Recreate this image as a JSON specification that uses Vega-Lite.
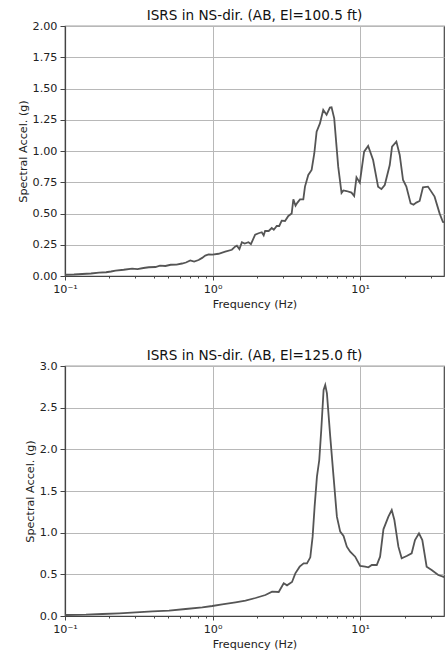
{
  "$schema": "https://vega.github.io/schema/vega-lite/v6.json",
  "padding": {"left": 16, "top": 8, "right": 0, "bottom": 0},
  "spacing": 38,
  "datasets": {
    "top": [
      {"f": 0.1, "a": 0.01}, {"f": 0.115, "a": 0.012}, {"f": 0.131, "a": 0.016}, {"f": 0.15, "a": 0.02}, {"f": 0.17, "a": 0.027}, {"f": 0.19, "a": 0.03}, {"f": 0.205, "a": 0.036}, {"f": 0.22, "a": 0.043},
      {"f": 0.25, "a": 0.05}, {"f": 0.285, "a": 0.059}, {"f": 0.31, "a": 0.055}, {"f": 0.34, "a": 0.064}, {"f": 0.37, "a": 0.07}, {"f": 0.41, "a": 0.072}, {"f": 0.44, "a": 0.083}, {"f": 0.479, "a": 0.08}, {"f": 0.52, "a": 0.09}, {"f": 0.57, "a": 0.091}, {"f": 0.621, "a": 0.1},
      {"f": 0.66, "a": 0.108}, {"f": 0.706, "a": 0.125}, {"f": 0.75, "a": 0.115}, {"f": 0.804, "a": 0.128}, {"f": 0.85, "a": 0.145}, {"f": 0.892, "a": 0.163}, {"f": 0.94, "a": 0.172}, {"f": 1.0, "a": 0.171},
      {"f": 1.098, "a": 0.178}, {"f": 1.218, "a": 0.195}, {"f": 1.351, "a": 0.21}, {"f": 1.42, "a": 0.235}, {"f": 1.46, "a": 0.242},
      {"f": 1.52, "a": 0.215}, {"f": 1.58, "a": 0.27}, {"f": 1.65, "a": 0.26}, {"f": 1.751, "a": 0.27}, {"f": 1.82, "a": 0.255}, {"f": 1.943, "a": 0.33},
      {"f": 2.05, "a": 0.342}, {"f": 2.154, "a": 0.35}, {"f": 2.22, "a": 0.325}, {"f": 2.27, "a": 0.36}, {"f": 2.4, "a": 0.36}, {"f": 2.517, "a": 0.384}, {"f": 2.6, "a": 0.37}, {"f": 2.721, "a": 0.4}, {"f": 2.83, "a": 0.4},
      {"f": 2.941, "a": 0.443}, {"f": 3.097, "a": 0.44}, {"f": 3.262, "a": 0.48}, {"f": 3.436, "a": 0.5},
      {"f": 3.527, "a": 0.613}, {"f": 3.65, "a": 0.562}, {"f": 3.75, "a": 0.585}, {"f": 3.912, "a": 0.613}, {"f": 4.12, "a": 0.613},
      {"f": 4.228, "a": 0.715}, {"f": 4.452, "a": 0.808}, {"f": 4.69, "a": 0.848}, {"f": 4.889, "a": 0.98},
      {"f": 5.07, "a": 1.155}, {"f": 5.34, "a": 1.221}, {"f": 5.623, "a": 1.328}, {"f": 5.923, "a": 1.29},
      {"f": 6.237, "a": 1.347}, {"f": 6.401, "a": 1.349}, {"f": 6.672, "a": 1.261}, {"f": 6.92, "a": 1.035},
      {"f": 7.101, "a": 0.875}, {"f": 7.479, "a": 0.665}, {"f": 7.7, "a": 0.685}, {"f": 8.085, "a": 0.68}, {"f": 8.738, "a": 0.667},
      {"f": 9.109, "a": 0.64}, {"f": 9.445, "a": 0.789}, {"f": 9.947, "a": 0.747}, {"f": 10.64, "a": 0.995},
      {"f": 11.33, "a": 1.04}, {"f": 12.24, "a": 0.928}, {"f": 13.23, "a": 0.715}, {"f": 13.94, "a": 0.695},
      {"f": 14.68, "a": 0.728}, {"f": 15.87, "a": 0.888}, {"f": 16.45, "a": 1.035}, {"f": 17.6, "a": 1.075},
      {"f": 18.54, "a": 0.968}, {"f": 19.53, "a": 0.768}, {"f": 20.56, "a": 0.715}, {"f": 21.99, "a": 0.581},
      {"f": 23.0, "a": 0.57}, {"f": 24.02, "a": 0.587}, {"f": 25.3, "a": 0.6}, {"f": 26.65, "a": 0.709}, {"f": 28.81, "a": 0.715},
      {"f": 31.94, "a": 0.635}, {"f": 34.54, "a": 0.501}, {"f": 36.37, "a": 0.432}, {"f": 38.0, "a": 0.43}
    ],
    "bottom": [
      {"f": 0.1, "a": 0.012}, {"f": 0.1387, "a": 0.016}, {"f": 0.1797, "a": 0.024}, {"f": 0.2329, "a": 0.032},
      {"f": 0.3017, "a": 0.044}, {"f": 0.3912, "a": 0.056}, {"f": 0.507, "a": 0.064}, {"f": 0.6571, "a": 0.084},
      {"f": 0.8515, "a": 0.104}, {"f": 0.995, "a": 0.12}, {"f": 1.162, "a": 0.14}, {"f": 1.43, "a": 0.164},
      {"f": 1.671, "a": 0.184}, {"f": 1.952, "a": 0.216}, {"f": 2.281, "a": 0.252}, {"f": 2.53, "a": 0.292},
      {"f": 2.807, "a": 0.288}, {"f": 3.034, "a": 0.392}, {"f": 3.194, "a": 0.368}, {"f": 3.454, "a": 0.408},
      {"f": 3.638, "a": 0.512}, {"f": 3.892, "a": 0.592}, {"f": 4.141, "a": 0.632}, {"f": 4.362, "a": 0.632},
      {"f": 4.594, "a": 0.704}, {"f": 4.764, "a": 0.952}, {"f": 4.914, "a": 1.312}, {"f": 5.096, "a": 1.672},
      {"f": 5.284, "a": 1.872}, {"f": 5.451, "a": 2.232}, {"f": 5.653, "a": 2.712}, {"f": 5.801, "a": 2.772},
      {"f": 5.955, "a": 2.672}, {"f": 6.271, "a": 2.152}, {"f": 6.603, "a": 1.672}, {"f": 6.956, "a": 1.192},
      {"f": 7.326, "a": 1.012}, {"f": 7.717, "a": 0.96}, {"f": 8.127, "a": 0.832}, {"f": 8.558, "a": 0.772},
      {"f": 9.252, "a": 0.712}, {"f": 10.0, "a": 0.6}, {"f": 10.81, "a": 0.592}, {"f": 11.38, "a": 0.584},
      {"f": 11.99, "a": 0.612}, {"f": 12.96, "a": 0.612}, {"f": 13.65, "a": 0.712}, {"f": 14.38, "a": 1.04},
      {"f": 15.54, "a": 1.192}, {"f": 16.37, "a": 1.272}, {"f": 17.06, "a": 1.152}, {"f": 18.16, "a": 0.832},
      {"f": 19.12, "a": 0.692}, {"f": 20.67, "a": 0.72}, {"f": 22.34, "a": 0.752}, {"f": 23.53, "a": 0.912},
      {"f": 25.04, "a": 0.992}, {"f": 26.38, "a": 0.912}, {"f": 28.22, "a": 0.592}, {"f": 30.5, "a": 0.552},
      {"f": 33.83, "a": 0.492}, {"f": 39.11, "a": 0.452}
    ]
  },
  "vconcat": [
    {
      "width": 379,
      "height": 250,
      "title": {"text": "ISRS in NS-dir. (AB, El=100.5 ft)", "frame": "group", "offset": -3},
      "data": {"name": "top"},
      "mark": {"type": "line", "color": "#555555", "strokeWidth": 1.8, "clip": true},
      "encoding": {
        "x": {"field": "f", "type": "quantitative", "title": "Frequency (Hz)",
              "scale": {"type": "log", "domain": [0.1, 37], "nice": false},
              "axis": {"values": [0.1,0.2,0.3,0.4,0.5,0.6,0.7,0.8,0.9,1,2,3,4,5,6,7,8,9,10,20,30],
                       "labelExpr": "datum.value == 0.1 ? '10⁻¹' : datum.value == 1 ? '10⁰' : datum.value == 10 ? '10¹' : ''",
                       "tickSize": {"condition": {"test": "datum.value == 0.1 || datum.value == 1 || datum.value == 10", "value": 4}, "value": 2},
                       "gridOpacity": {"condition": {"test": "datum.value == 0.1 || datum.value == 1 || datum.value == 10", "value": 1}, "value": 0}}},
        "y": {"field": "a", "type": "quantitative", "title": "Spectral Accel. (g)",
              "scale": {"domain": [0, 2], "nice": false},
              "axis": {"values": [0,0.25,0.5,0.75,1,1.25,1.5,1.75,2], "format": ".2f"}}
      }
    },
    {
      "width": 379,
      "height": 250,
      "title": {"text": "ISRS in NS-dir. (AB, El=125.0 ft)", "frame": "group", "offset": -3},
      "data": {"name": "bottom"},
      "mark": {"type": "line", "color": "#555555", "strokeWidth": 1.8, "clip": true},
      "encoding": {
        "x": {"field": "f", "type": "quantitative", "title": "Frequency (Hz)",
              "scale": {"type": "log", "domain": [0.1, 37], "nice": false},
              "axis": {"values": [0.1,0.2,0.3,0.4,0.5,0.6,0.7,0.8,0.9,1,2,3,4,5,6,7,8,9,10,20,30],
                       "labelExpr": "datum.value == 0.1 ? '10⁻¹' : datum.value == 1 ? '10⁰' : datum.value == 10 ? '10¹' : ''",
                       "tickSize": {"condition": {"test": "datum.value == 0.1 || datum.value == 1 || datum.value == 10", "value": 4}, "value": 2},
                       "gridOpacity": {"condition": {"test": "datum.value == 0.1 || datum.value == 1 || datum.value == 10", "value": 1}, "value": 0}}},
        "y": {"field": "a", "type": "quantitative", "title": "Spectral Accel. (g)",
              "scale": {"domain": [0, 3], "nice": false},
              "axis": {"values": [0,0.5,1,1.5,2,2.5,3], "format": ".1f"}}
      }
    }
  ],
  "config": {
    "font": "DejaVu Sans",
    "view": {"stroke": "#444444", "strokeWidth": 1.2},
    "title": {"fontSize": 13.6, "fontWeight": "normal", "color": "#111111", "font": "DejaVu Sans"},
    "axis": {
      "domainColor": "#444444", "domainWidth": 1.2,
      "tickColor": "#444444", "tickWidth": 1,
      "gridColor": "#b8b8b8", "gridWidth": 1,
      "labelFont": "DejaVu Sans", "labelFontSize": 11.2, "labelColor": "#222222", "labelPadding": 3,
      "titleFont": "DejaVu Sans", "titleFontSize": 11.2, "titleFontWeight": "normal", "titleColor": "#222222",
      "titlePadding": 4, "labelFlush": false, "labelOverlap": false
    }
  }
}
